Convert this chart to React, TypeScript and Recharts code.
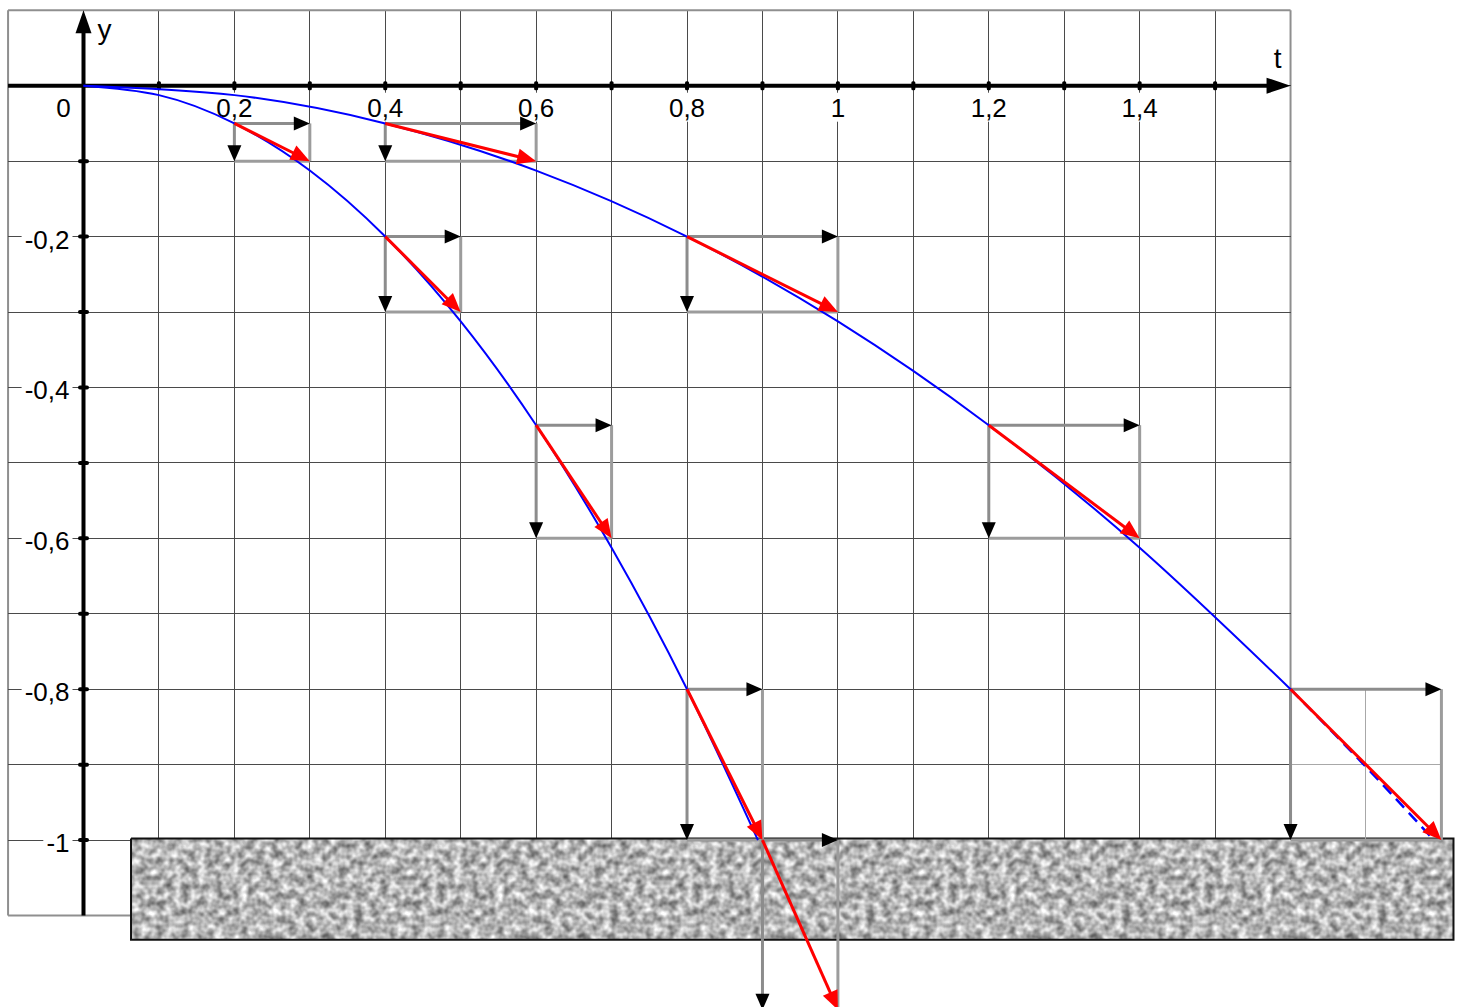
import { Area, ComposedChart, Line, Scatter, XAxis, YAxis } from 'recharts';

const W = 1461;
const H = 1007;
// where the origin sits and how many px one unit spans (same on both axes)
const ORIGIN_X = 83.5;
const ORIGIN_Y = 85.7;
const UNIT = 754.4;

const X_DOMAIN = [-ORIGIN_X / UNIT, (W - ORIGIN_X) / UNIT];
const Y_DOMAIN = [-(H - ORIGIN_Y) / UNIT, ORIGIN_Y / UNIT];

const FONT = '"Liberation Sans", Arial, sans-serif';

// grid lines
const gridT = [-0.1, 0, 0.1, 0.2, 0.3, 0.4, 0.5, 0.6, 0.7, 0.8, 0.9, 1.0, 1.1, 1.2, 1.3, 1.4, 1.5, 1.6];
const gridY = [0.1, 0, -0.1, -0.2, -0.3, -0.4, -0.5, -0.6, -0.7, -0.8, -0.9, -1.0, -1.1];

// axis ticks and labels
const tickT = [0.1, 0.2, 0.3, 0.4, 0.5, 0.6, 0.7, 0.8, 0.9, 1.0, 1.1, 1.2, 1.3, 1.4, 1.5];
const tickY = [-0.1, -0.2, -0.3, -0.4, -0.5, -0.6, -0.7, -0.8, -0.9, -1.0];
const labelT = [0.2, 0.4, 0.6, 0.8, 1, 1.2, 1.4];
const labelY = [-0.2, -0.4, -0.6, -0.8, -1];

// trajectories
const slowT = [0, 0.1, 0.2, 0.3, 0.4, 0.5, 0.6, 0.7, 0.8, 0.894];
const slowY = [0, -0.0125, -0.05, -0.1125, -0.2, -0.3125, -0.45, -0.6125, -0.8, -1.0];
const fastT = [0, 0.2, 0.4, 0.6, 0.8, 1.0, 1.2, 1.4, 1.6];
const fastY = [0, -0.0125, -0.05, -0.1125, -0.2, -0.3125, -0.45, -0.6125, -0.8];
const fastTailT = [1.6, 1.7, 1.79];
const fastTailY = [-0.8, -0.903, -1.0];

// velocity split: start point and displacement over one step
const SLOW_DT = 0.1;
const slowVecT = [0.2, 0.4, 0.6, 0.8, 0.9];
const slowVecY = [-0.05, -0.2, -0.45, -0.8, -1.0];
const slowVecDy = [-0.05, -0.1, -0.15, -0.2, -0.225];
const FAST_DT = 0.2;
const fastVecT = [0.4, 0.8, 1.2, 1.6];
const fastVecY = [-0.05, -0.2, -0.45, -0.8];
const fastVecDy = [-0.05, -0.1, -0.15, -0.2];

// extra grid inside the last box
const tailGridT = [1.7];
const tailGridY = [-0.9];

// ground slab
const groundT = [0.063, 1.816];
const groundY = [-0.998, -1.132];

type Pt = { t: number; y: number };
type Head = { color: string; len: number; half: number };
type Seg = {
  id: string;
  a: Pt;
  b: Pt;
  color: string;
  width: number;
  head?: Head;
  crisp?: boolean;
};

const pt = (t: number, y: number): Pt => ({ t, y });

const GRAY = '#8c8c8c';
const BOX = '#9c9c9c';
const BLACK_HEAD: Head = { color: '#000', len: 16, half: 7 };
const RED_HEAD: Head = { color: '#ff0000', len: 19, half: 8 };

function headDot(a: Pt, b: Pt, h: Head) {
  const dx = b.t - a.t;
  const dy = b.y - a.y;
  const n = Math.hypot(dx, dy);
  const ux = dx / n;
  const uy = -dy / n;
  return (p: any) => {
    if (p.index !== 1) return <g key={`n${p.index}`} />;
    const bx = p.cx - ux * h.len;
    const by = p.cy - uy * h.len;
    const pts = `${p.cx},${p.cy} ${bx - uy * h.half},${by + ux * h.half} ${bx + uy * h.half},${by - ux * h.half}`;
    return <polygon key="head" points={pts} fill={h.color} />;
  };
}

function renderSeg(s: Seg, z: number) {
  const lenPx = Math.hypot(s.b.t - s.a.t, s.b.y - s.a.y) * UNIT;
  return (
    <Line
      key={s.id}
      data={[s.a, s.b]}
      dataKey="y"
      type="linear"
      stroke={s.color}
      strokeWidth={s.width}
      strokeDasharray={s.head ? `${lenPx - s.head.len + 3} 4000` : undefined}
      shapeRendering={s.crisp ? 'crispEdges' : undefined}
      dot={s.head ? headDot(s.a, s.b, s.head) : false}
      activeDot={false}
      isAnimationActive={false}
      zIndex={z}
    />
  );
}

const gridSegs: Seg[] = [
  ...gridT.map((t) => {
    const border = t === -0.1 || t === 1.6;
    return {
      id: `gv${t}`,
      a: pt(t, 0.1),
      b: pt(t, -1.1),
      color: border ? '#8f8f8f' : '#4a4a4a',
      width: border ? 2 : 1,
      crisp: !border,
    };
  }),
  ...gridY.map((y) => {
    const border = y === 0.1 || y === -1.1;
    return {
      id: `gh${y}`,
      a: pt(-0.1, y),
      b: pt(1.6, y),
      color: border ? '#8f8f8f' : '#4a4a4a',
      width: border ? 2 : 1,
      crisp: !border,
    };
  }),
];

const lastFast = fastVecT.length - 1;
const tailSegs: Seg[] = [
  ...tailGridT.map((t) => ({
    id: `tv${t}`,
    a: pt(t, fastVecY[lastFast]),
    b: pt(t, fastVecY[lastFast] + fastVecDy[lastFast]),
    color: '#a8a8a8',
    width: 1,
    crisp: true,
  })),
  ...tailGridY.map((y) => ({
    id: `th${y}`,
    a: pt(fastVecT[lastFast], y),
    b: pt(fastVecT[lastFast] + FAST_DT, y),
    color: '#a8a8a8',
    width: 1,
    crisp: true,
  })),
];

function vectorSegs(prefix: string, ts: number[], ys: number[], dys: number[], dt: number) {
  const box: Seg[] = [];
  const comps: Seg[] = [];
  const reds: Seg[] = [];
  ts.forEach((t, i) => {
    const y = ys[i];
    const dy = dys[i];
    box.push({ id: `${prefix}r${i}`, a: pt(t + dt, y), b: pt(t + dt, y + dy), color: BOX, width: 3 });
    box.push({ id: `${prefix}b${i}`, a: pt(t, y + dy), b: pt(t + dt, y + dy), color: BOX, width: 3 });
    comps.push({ id: `${prefix}h${i}`, a: pt(t, y), b: pt(t + dt, y), color: GRAY, width: 3, head: BLACK_HEAD });
    comps.push({ id: `${prefix}v${i}`, a: pt(t, y), b: pt(t, y + dy), color: GRAY, width: 3, head: BLACK_HEAD });
    reds.push({ id: `${prefix}s${i}`, a: pt(t, y), b: pt(t + dt, y + dy), color: '#ff0000', width: 3, head: RED_HEAD });
  });
  return { box, comps, reds };
}

const slowVec = vectorSegs('s', slowVecT, slowVecY, slowVecDy, SLOW_DT);
const fastVec = vectorSegs('f', fastVecT, fastVecY, fastVecDy, FAST_DT);

const axisSegs: Seg[] = [
  { id: 'axT', a: pt(-0.1, 0), b: pt(1.6, 0), color: '#000', width: 4, head: { color: '#000', len: 24, half: 8 } },
  { id: 'axY', a: pt(0, -1.1), b: pt(0, 0.1), color: '#000', width: 4, head: { color: '#000', len: 23, half: 8 } },
];

const toPts = (ts: number[], ys: number[]) => ts.map((t, i) => pt(t, ys[i]));

const groundTop = toPts(groundT, [groundY[0], groundY[0]]);
const groundEdge = toPts(
  [groundT[0], groundT[1], groundT[1], groundT[0], groundT[0]],
  [groundY[0], groundY[0], groundY[1], groundY[1], groundY[0]],
);

const fmt = (v: number) => String(v).replace('.', ',');
const charW = (c: string) => (c === ',' ? 7.2 : c === '-' ? 8.7 : 14.5);
const textW = (s: string) => s.split('').reduce((w, c) => w + charW(c), 0);

const xLabelData = [
  { t: 0, y: 0, text: '0', origin: true },
  ...labelT.map((t) => ({ t, y: 0, text: fmt(t), origin: false })),
];
const yLabelData = labelY.map((y) => ({ t: 0, y, text: fmt(y) }));
const tickTData = tickT.map((t) => ({ t, y: 0 }));
const tickYData = tickY.map((y) => ({ t: 0, y }));
const axisNameData = [
  { t: 1.6, y: 0, text: 't', dx: -13, dy: -18, anchor: 'middle' },
  { t: 0, y: 0.1, text: 'y', dx: 14, dy: 29, anchor: 'start' },
];

const textStyle = { fontFamily: FONT, fontSize: 26, fill: '#000' };

const XLabel = (p: any) => {
  const { cx, cy, payload } = p;
  const x = payload.origin ? cx - 20 : cx;
  const w = textW(payload.text);
  return (
    <g>
      <rect x={x - w / 2 - 3} y={cy + 7} width={w + 6} height={29} fill="#fff" />
      <text x={x} y={cy + 31} textAnchor="middle" style={textStyle}>
        {payload.text}
      </text>
    </g>
  );
};

const YLabel = (p: any) => {
  const { cx, cy, payload } = p;
  const w = textW(payload.text);
  return (
    <g>
      <rect x={cx - 14 - w - 3} y={cy - 12} width={w + 6} height={28} fill="#fff" />
      <text x={cx - 14} y={cy + 12} textAnchor="end" style={textStyle}>
        {payload.text}
      </text>
    </g>
  );
};

const TickT = (p: any) => <rect x={p.cx - 2} y={p.cy - 4.5} width={4} height={9} rx={1.5} fill="#000" />;
const TickY = (p: any) => <rect x={p.cx - 5.5} y={p.cy - 2} width={11} height={4} rx={2} fill="#000" />;

const AxisName = (p: any) => {
  const { cx, cy, payload } = p;
  return (
    <text x={cx + payload.dx} y={cy + payload.dy} textAnchor={payload.anchor} style={{ ...textStyle, fontSize: 28 }}>
      {payload.text}
    </text>
  );
};

export default function App() {
  return (
    <div>
      <style>{'html,body{margin:0;padding:0;overflow:hidden;background:#fff}'}</style>
      <ComposedChart width={W} height={H} margin={{ top: 0, right: 0, bottom: 0, left: 0 }}>
        <defs>
          {/* soft grey stone texture for the ground */}
          <filter id="graniteNoise" x="0" y="0" width="1" height="1" colorInterpolationFilters="sRGB">
            <feTurbulence type="fractalNoise" baseFrequency="0.12" numOctaves={2} seed={11} stitchTiles="stitch" />
            <feColorMatrix type="matrix" values="1 0 0 0 0  1 0 0 0 0  1 0 0 0 0  0 0 0 0 1" />
            <feComponentTransfer>
              <feFuncR type="linear" slope={0.9} intercept={0.26} />
              <feFuncG type="linear" slope={0.9} intercept={0.26} />
              <feFuncB type="linear" slope={0.9} intercept={0.26} />
            </feComponentTransfer>
            <feGaussianBlur stdDeviation={0.7} />
          </filter>
          <pattern id="granite" patternUnits="userSpaceOnUse" width={256} height={256}>
            <rect width={256} height={256} filter="url(#graniteNoise)" />
          </pattern>
        </defs>
        <XAxis type="number" dataKey="t" domain={X_DOMAIN} allowDataOverflow hide />
        <YAxis type="number" dataKey="y" domain={Y_DOMAIN} allowDataOverflow hide />

        {gridSegs.map((s) => renderSeg(s, 100))}

        <Scatter data={xLabelData} shape={XLabel} isAnimationActive={false} zIndex={150} />
        <Scatter data={yLabelData} shape={YLabel} isAnimationActive={false} zIndex={150} />

        <Area
          data={groundTop}
          dataKey="y"
          type="linear"
          baseValue={groundY[1]}
          fill="url(#granite)"
          fillOpacity={1}
          stroke="none"
          isAnimationActive={false}
          activeDot={false}
          zIndex={200}
        />
        <Line
          data={groundEdge}
          dataKey="y"
          type="linear"
          stroke="#111"
          strokeWidth={2}
          dot={false}
          activeDot={false}
          isAnimationActive={false}
          zIndex={210}
        />

        {axisSegs.map((s) => renderSeg(s, 250))}
        <Scatter data={tickTData} shape={TickT} isAnimationActive={false} zIndex={260} />
        <Scatter data={tickYData} shape={TickY} isAnimationActive={false} zIndex={260} />
        <Scatter data={axisNameData} shape={AxisName} isAnimationActive={false} zIndex={260} />

        {tailSegs.map((s) => renderSeg(s, 300))}
        {[...slowVec.box, ...fastVec.box].map((s) => renderSeg(s, 310))}
        {[...slowVec.comps, ...fastVec.comps].map((s) => renderSeg(s, 320))}

        <Line
          data={toPts(slowT, slowY)}
          dataKey="y"
          type="natural"
          stroke="#0000ff"
          strokeWidth={2}
          dot={false}
          activeDot={false}
          isAnimationActive={false}
          zIndex={400}
        />
        <Line
          data={toPts(fastT, fastY)}
          dataKey="y"
          type="natural"
          stroke="#0000ff"
          strokeWidth={2}
          dot={false}
          activeDot={false}
          isAnimationActive={false}
          zIndex={400}
        />
        <Line
          data={toPts(fastTailT, fastTailY)}
          dataKey="y"
          type="natural"
          stroke="#0000ff"
          strokeWidth={2.5}
          strokeDasharray="12 7"
          dot={false}
          activeDot={false}
          isAnimationActive={false}
          zIndex={400}
        />

        {[...slowVec.reds, ...fastVec.reds].map((s) => renderSeg(s, 450))}
      </ComposedChart>
    </div>
  );
}
